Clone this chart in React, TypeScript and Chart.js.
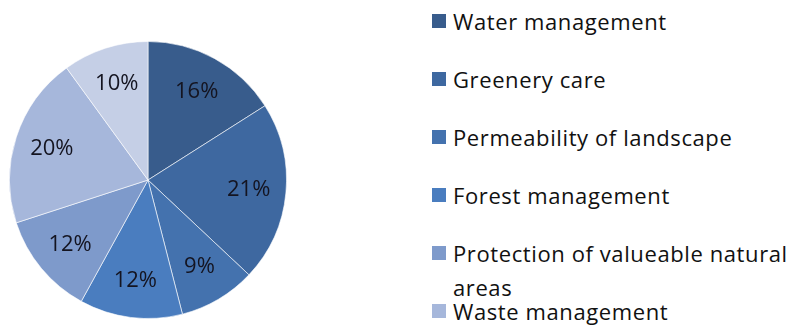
import React, { useEffect, useRef } from "react";
import { Chart, registerables } from "chart.js";

Chart.register(...registerables);

const categories = [
  "Water management",
  "Greenery care",
  "Permeability of landscape",
  "Forest management",
  "Protection of valueable natural areas",
  "Waste management",
  "Other",
];
const shares = [16, 21, 9, 12, 12, 20, 10];
const sliceColors = ["#385C8C", "#3E68A0", "#4472AE", "#4A7DBF", "#7E9ACB", "#A6B7DB", "#C5CFE6"];

const FONT = "'Open Sans', 'Noto Sans', sans-serif";

const labelPlugin = {
  id: "sliceLabels",
  afterDatasetsDraw(chart: any) {
    const ctx = chart.ctx;
    const meta = chart.getDatasetMeta(0);
    ctx.save();
    ctx.font = `22px ${FONT}`;
    ctx.fillStyle = "#141420";
    ctx.textAlign = "center";
    ctx.textBaseline = "middle";
    meta.data.forEach((arc: any, i: number) => {
      const p = arc.getProps(["x", "y", "startAngle", "endAngle", "outerRadius"], true);
      const mid = (p.startAngle + p.endAngle) / 2;
      const r = p.outerRadius * 0.73;
      ctx.fillText(`${shares[i]}%`, p.x + Math.cos(mid) * r, p.y + Math.sin(mid) * r);
    });
    ctx.restore();
  },
};

export default function App() {
  const ref = useRef<HTMLCanvasElement>(null);
  useEffect(() => {
    if (!ref.current) return;
    const chart = new Chart(ref.current, {
      type: "pie",
      data: {
        labels: categories,
        datasets: [
          {
            data: shares,
            backgroundColor: sliceColors,
            borderColor: "rgba(255,255,255,0.6)",
            borderWidth: 1,
          },
        ],
      },
      options: {
        animation: false,
        responsive: false,
        maintainAspectRatio: false,
        layout: { padding: 0 },
        plugins: { legend: { display: false }, tooltip: { enabled: false } },
      },
      plugins: [labelPlugin],
    });
    return () => chart.destroy();
  }, []);

  return (
    <div
      style={{
        position: "fixed",
        left: 0,
        top: 0,
        width: 795,
        height: 329,
        overflow: "hidden",
        background: "#fff",
        fontFamily: FONT,
      }}
    >
      <canvas
        ref={ref}
        width={278}
        height={278}
        style={{ position: "absolute", left: 9, top: 41, width: 278, height: 278 }}
      />
      {categories.map((name, i) => (
        <div
          key={name}
          style={{
            position: "absolute",
            left: 432,
            top: 21 + i * 58 - 17,
            width: 360,
            display: "flex",
            alignItems: "flex-start",
          }}
        >
          <div
            style={{
              width: 14,
              height: 14,
              marginTop: 10,
              background: sliceColors[i],
              flex: "none",
            }}
          />
          <div
            style={{
              marginLeft: 7,
              fontSize: 22,
              lineHeight: "34px",
              letterSpacing: 0.6,
              color: "#111",
            }}
          >
            {name}
          </div>
        </div>
      ))}
    </div>
  );
}
